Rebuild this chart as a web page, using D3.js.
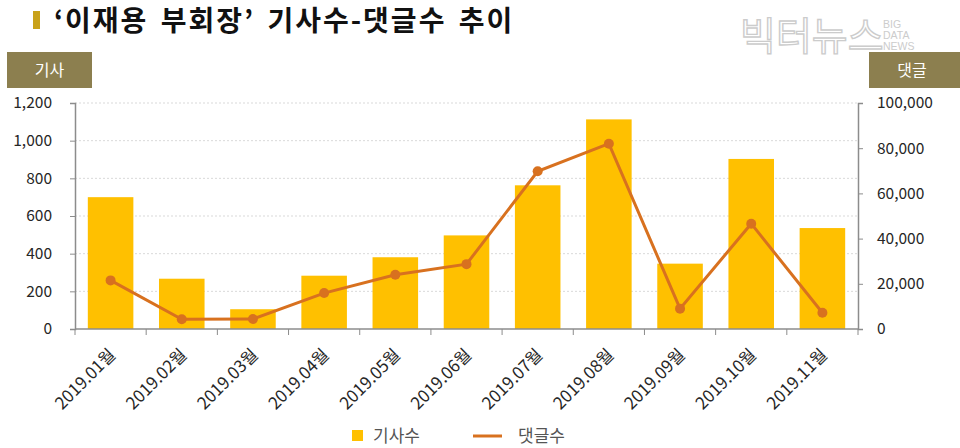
<!DOCTYPE html>
<html><head><meta charset="utf-8">
<script src="https://cdn.jsdelivr.net/npm/d3@7"></script>
<style>
body{margin:0;background:#fff;}
svg{display:block;font-family:"Noto Sans CJK KR","Noto Sans",sans-serif;}
</style></head><body>
<svg id="c" width="960" height="448"></svg>
<script>
const categories = ["2019.01월","2019.02월","2019.03월","2019.04월","2019.05월","2019.06월","2019.07월","2019.08월","2019.09월","2019.10월","2019.11월"];
const articles = [700, 267, 105, 283, 381, 497, 763, 1113, 347, 903, 536];
const comments = [21500, 4300, 4400, 15900, 24000, 28700, 69800, 82000, 9000, 46600, 7200];
const leftTicks = [0, 200, 400, 600, 800, 1000, 1200];
const rightTicks = [0, 20000, 40000, 60000, 80000, 100000];

const svg = d3.select("#c");
const L = 75, R = 858, T = 103, B = 329;
const x = d3.scaleBand().domain(categories).range([L, R]).paddingInner(0.36).paddingOuter(0.18);
const xb = d3.scaleBand().domain(categories).range([L, R]);
const yL = d3.scaleLinear().domain([0, 1200]).range([B, T]);
const yR = d3.scaleLinear().domain([0, 100000]).range([B, T]);
const gold = "#FFC000", orange = "#D8711F", axisC = "#8c8c8c", txt = "#262626";

// title
svg.append("rect").attr("x", 33).attr("y", 11).attr("width", 7).attr("height", 18).attr("fill", "#C9A21A");
svg.append("text").attr("x", 54).attr("y", 31).attr("font-size", 28).attr("font-weight", 700).attr("fill", "#111")
  .attr("letter-spacing", 2).attr("word-spacing", 4)
  .text("‘이재용 부회장’ 기사수-댓글수 추이");

// watermark
const wm = svg.append("g").attr("fill", "#fff").attr("stroke", "#cccccc").attr("stroke-width", 1.4);
wm.append("text").attr("x", 740).attr("y", 50).attr("font-size", 39).attr("font-weight", 400).text("빅터뉴스");
const wm2 = svg.append("g").attr("fill", "#cccccc").attr("font-size", 10.5).attr("font-family", "Liberation Sans, sans-serif");
wm2.append("text").attr("x", 883).attr("y", 28).text("BIG");
wm2.append("text").attr("x", 883).attr("y", 39).text("DATA");
wm2.append("text").attr("x", 883).attr("y", 50).text("NEWS");

// axis label boxes
svg.append("rect").attr("x", 7).attr("y", 52).attr("width", 85).attr("height", 36).attr("fill", "#8C7F4F");
svg.append("text").attr("x", 49.5).attr("y", 76).attr("text-anchor", "middle").attr("font-size", 16).attr("fill", "#fff").text("기사");
svg.append("rect").attr("x", 869).attr("y", 52).attr("width", 91).attr("height", 36).attr("fill", "#8C7F4F");
svg.append("text").attr("x", 912).attr("y", 76).attr("text-anchor", "middle").attr("font-size", 16).attr("fill", "#fff").text("댓글");

// gridlines
svg.append("g").selectAll("line").data(leftTicks.filter(d => d > 0)).join("line")
  .attr("x1", L).attr("x2", R).attr("y1", d => yL(d)).attr("y2", d => yL(d))
  .attr("stroke", "#d9d9d9").attr("stroke-dasharray", "2,2").attr("stroke-width", 1);

// bars
svg.append("g").selectAll("rect").data(categories).join("rect")
  .attr("x", d => x(d)).attr("width", x.bandwidth())
  .attr("y", (d, i) => yL(articles[i])).attr("height", (d, i) => B - yL(articles[i]))
  .attr("fill", gold);

// line
const pts = categories.map((c, i) => [x(c) + x.bandwidth() / 2, yR(comments[i])]);
svg.append("path").attr("d", d3.line()(pts)).attr("fill", "none").attr("stroke", orange).attr("stroke-width", 3);
svg.append("g").selectAll("circle").data(pts).join("circle")
  .attr("cx", d => d[0]).attr("cy", d => d[1]).attr("r", 5).attr("fill", orange);

// axes
const fmt = d3.format(",");
const gl = svg.append("g").attr("transform", `translate(${L},0)`)
  .call(d3.axisLeft(yL).tickValues(leftTicks).tickFormat(fmt).tickSize(5).tickPadding(18));
const gr = svg.append("g").attr("transform", `translate(${R},0)`)
  .call(d3.axisRight(yR).tickValues(rightTicks).tickFormat(fmt).tickSize(5).tickPadding(14));
const gx = svg.append("g").attr("transform", `translate(0,${B})`)
  .call(d3.axisBottom(xb).tickSize(0).tickFormat(""));
gx.selectAll(".tick").remove();
gx.append("g").selectAll("line").data(categories.concat(["end"])).join("line")
  .attr("x1", (d, i) => L + i * xb.step()).attr("x2", (d, i) => L + i * xb.step())
  .attr("y1", 0).attr("y2", 6).attr("stroke", axisC);
[gl, gr, gx].forEach(g => {
  g.selectAll("path.domain").attr("stroke", axisC).attr("stroke-width", 1.5);
  g.selectAll(".tick line").attr("stroke", axisC);
  g.selectAll(".tick text").attr("font-size", 15.5).attr("fill", txt).attr("font-family", "'Noto Sans CJK KR','Noto Sans',sans-serif");
});
gx.select("path.domain").attr("d", `M${L},0H${R}`);

// x labels
svg.append("g").selectAll("text").data(categories).join("text")
  .attr("transform", d => `translate(${x(d) + x.bandwidth() / 2 + 6},${B + 27}) rotate(-45)`)
  .attr("text-anchor", "end").attr("font-size", 17).attr("fill", txt).text(d => d);

// legend
svg.append("rect").attr("x", 352).attr("y", 430).attr("width", 11).attr("height", 11).attr("fill", gold);
svg.append("text").attr("x", 373).attr("y", 442).attr("font-size", 17).attr("fill", "#555").text("기사수");
svg.append("line").attr("x1", 473).attr("x2", 502).attr("y1", 436).attr("y2", 436).attr("stroke", orange).attr("stroke-width", 3);
svg.append("text").attr("x", 518).attr("y", 442).attr("font-size", 17).attr("fill", "#555").text("댓글수");
</script></body></html>
